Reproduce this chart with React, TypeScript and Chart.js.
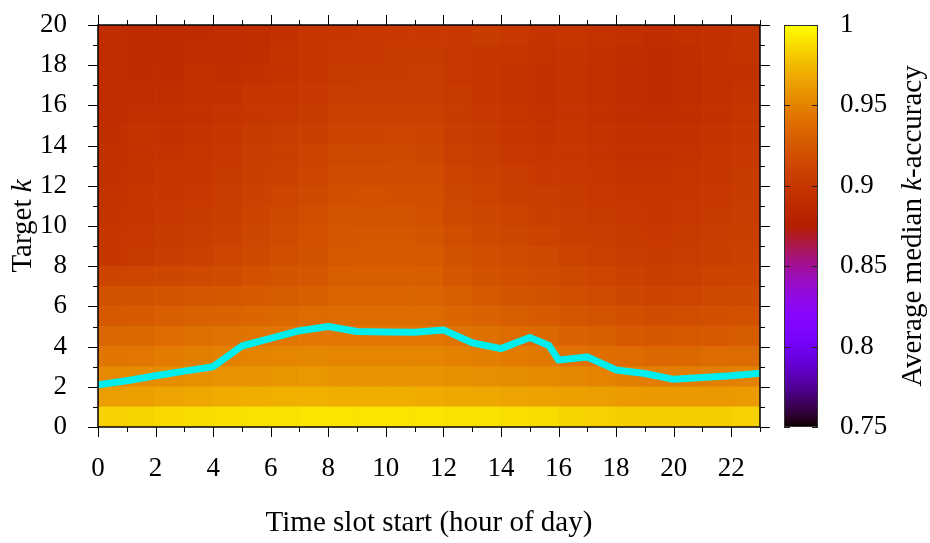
import React, { useEffect, useRef } from 'react';
import { Chart, registerables } from 'chart.js';

Chart.register(...registerables);

// ---- data ----
const hours: number[] = [0, 1, 2, 3, 4, 5, 6, 7, 8, 9, 10, 11, 12, 13, 14, 15, 16, 17, 18, 19, 20, 21, 22];
const targetK: number[] = [0, 1, 2, 3, 4, 5, 6, 7, 8, 9, 10, 11, 12, 13, 14, 15, 16, 17, 18, 19];

// accuracy per target-k row (k = 0 .. 19), one value per hourly slot
const accuracyByK: number[][] = [
  [0.984, 0.985, 0.987, 0.988, 0.989, 0.990, 0.990, 0.991, 0.991, 0.991, 0.991, 0.991, 0.990, 0.990, 0.989, 0.988, 0.985, 0.984, 0.983, 0.983, 0.983, 0.983, 0.984],
  [0.963, 0.964, 0.966, 0.967, 0.969, 0.970, 0.971, 0.971, 0.970, 0.970, 0.970, 0.969, 0.968, 0.967, 0.966, 0.965, 0.964, 0.963, 0.962, 0.961, 0.961, 0.961, 0.962],
  [0.953, 0.954, 0.955, 0.957, 0.958, 0.958, 0.959, 0.960, 0.958, 0.958, 0.958, 0.958, 0.957, 0.956, 0.955, 0.954, 0.952, 0.950, 0.948, 0.947, 0.947, 0.948, 0.949],
  [0.943, 0.944, 0.946, 0.948, 0.949, 0.950, 0.951, 0.952, 0.951, 0.951, 0.951, 0.951, 0.949, 0.948, 0.946, 0.945, 0.941, 0.939, 0.937, 0.935, 0.936, 0.937, 0.938],
  [0.935, 0.936, 0.937, 0.940, 0.941, 0.942, 0.943, 0.944, 0.944, 0.944, 0.944, 0.944, 0.941, 0.940, 0.937, 0.936, 0.932, 0.930, 0.927, 0.925, 0.926, 0.927, 0.928],
  [0.926, 0.927, 0.929, 0.931, 0.932, 0.934, 0.936, 0.937, 0.938, 0.938, 0.938, 0.938, 0.934, 0.932, 0.929, 0.927, 0.924, 0.922, 0.919, 0.917, 0.918, 0.919, 0.920],
  [0.921, 0.921, 0.922, 0.924, 0.925, 0.927, 0.928, 0.930, 0.933, 0.933, 0.933, 0.933, 0.929, 0.926, 0.923, 0.921, 0.918, 0.916, 0.913, 0.911, 0.912, 0.914, 0.915],
  [0.911, 0.912, 0.913, 0.915, 0.917, 0.920, 0.923, 0.924, 0.929, 0.929, 0.929, 0.929, 0.924, 0.921, 0.919, 0.917, 0.914, 0.912, 0.909, 0.907, 0.908, 0.910, 0.911],
  [0.900, 0.903, 0.905, 0.908, 0.912, 0.915, 0.919, 0.921, 0.926, 0.927, 0.927, 0.926, 0.921, 0.918, 0.916, 0.914, 0.910, 0.908, 0.906, 0.904, 0.905, 0.907, 0.909],
  [0.899, 0.901, 0.903, 0.906, 0.909, 0.913, 0.916, 0.920, 0.924, 0.925, 0.925, 0.923, 0.918, 0.915, 0.913, 0.910, 0.907, 0.905, 0.903, 0.902, 0.903, 0.905, 0.907],
  [0.897, 0.900, 0.902, 0.904, 0.907, 0.911, 0.914, 0.918, 0.922, 0.922, 0.922, 0.920, 0.915, 0.913, 0.910, 0.907, 0.905, 0.903, 0.901, 0.900, 0.901, 0.903, 0.905],
  [0.896, 0.899, 0.900, 0.902, 0.905, 0.909, 0.912, 0.915, 0.919, 0.920, 0.919, 0.918, 0.913, 0.910, 0.907, 0.905, 0.903, 0.901, 0.899, 0.898, 0.900, 0.901, 0.904],
  [0.895, 0.897, 0.899, 0.900, 0.903, 0.907, 0.909, 0.912, 0.917, 0.917, 0.917, 0.916, 0.911, 0.908, 0.905, 0.902, 0.901, 0.899, 0.897, 0.896, 0.898, 0.900, 0.903],
  [0.893, 0.896, 0.897, 0.898, 0.901, 0.905, 0.907, 0.910, 0.914, 0.914, 0.915, 0.913, 0.908, 0.905, 0.902, 0.899, 0.899, 0.897, 0.895, 0.894, 0.896, 0.898, 0.901],
  [0.892, 0.896, 0.895, 0.897, 0.899, 0.903, 0.905, 0.907, 0.911, 0.911, 0.912, 0.911, 0.906, 0.903, 0.900, 0.897, 0.898, 0.896, 0.894, 0.893, 0.894, 0.896, 0.900],
  [0.890, 0.893, 0.893, 0.895, 0.897, 0.900, 0.902, 0.904, 0.908, 0.908, 0.909, 0.908, 0.904, 0.901, 0.898, 0.896, 0.897, 0.894, 0.892, 0.891, 0.892, 0.894, 0.898],
  [0.890, 0.890, 0.891, 0.894, 0.894, 0.899, 0.900, 0.902, 0.905, 0.906, 0.906, 0.906, 0.903, 0.900, 0.897, 0.895, 0.896, 0.893, 0.890, 0.889, 0.891, 0.893, 0.896],
  [0.890, 0.889, 0.889, 0.893, 0.892, 0.894, 0.897, 0.900, 0.903, 0.904, 0.904, 0.905, 0.901, 0.899, 0.897, 0.894, 0.896, 0.893, 0.890, 0.889, 0.891, 0.893, 0.895],
  [0.890, 0.888, 0.888, 0.890, 0.890, 0.892, 0.896, 0.899, 0.901, 0.902, 0.903, 0.903, 0.901, 0.900, 0.898, 0.896, 0.897, 0.894, 0.891, 0.889, 0.891, 0.894, 0.896],
  [0.890, 0.888, 0.888, 0.889, 0.890, 0.891, 0.895, 0.898, 0.900, 0.901, 0.902, 0.902, 0.902, 0.904, 0.901, 0.897, 0.898, 0.896, 0.893, 0.890, 0.893, 0.895, 0.897],
];

// cyan curve
const lineHours: number[] = [0, 1, 2, 3, 4, 5, 6, 7, 8, 9, 10, 11, 12, 13, 14, 15, 15.67, 16, 17, 18, 19, 20, 21, 22, 23];
const lineK: number[] = [2.1, 2.3, 2.55, 2.78, 3.0, 4.03, 4.41, 4.79, 5.0, 4.75, 4.73, 4.71, 4.83, 4.19, 3.9, 4.45, 4.05, 3.33, 3.48, 2.84, 2.66, 2.37, 2.46, 2.55, 2.68];

// axes
const xTicks: number[] = [0, 2, 4, 6, 8, 10, 12, 14, 16, 18, 20, 22];
const yTicks: number[] = [0, 2, 4, 6, 8, 10, 12, 14, 16, 18, 20];
const cbTicks: number[] = [0.75, 0.8, 0.85, 0.9, 0.95, 1];
const cbTickLabels: string[] = ['0.75', '0.8', '0.85', '0.9', '0.95', '1'];
const xMin = 0, xMax = 23, yMin = 0, yMax = 20;
const cbMin = 0.75, cbMax = 1;

// ---- style ----
const FAMILY = '"Liberation Serif", "Times New Roman", serif';
const FS = 27;
const TITLE_FS = 29;

function palette(v: number): string {
  let t = (v - cbMin) / (cbMax - cbMin);
  t = Math.max(0, Math.min(1, t));
  const r = Math.sqrt(t);
  const g = t * t * t;
  const b = Math.max(0, Math.sin(2 * Math.PI * t));
  return `rgb(${Math.round(r * 255)},${Math.round(g * 255)},${Math.round(b * 255)})`;
}

function drawRotatedMixed(ctx: CanvasRenderingContext2D, cx: number, cy: number, parts: [string, boolean][]) {
  ctx.save();
  ctx.translate(cx, cy);
  ctx.rotate(-Math.PI / 2);
  ctx.textBaseline = 'middle';
  ctx.textAlign = 'left';
  ctx.fillStyle = '#000';
  let total = 0;
  const widths: number[] = [];
  for (const [s, it] of parts) {
    ctx.font = `${it ? 'italic ' : ''}${TITLE_FS}px ${FAMILY}`;
    const w = ctx.measureText(s).width;
    widths.push(w);
    total += w;
  }
  let x = -total / 2;
  parts.forEach(([s, it], i) => {
    ctx.font = `${it ? 'italic ' : ''}${TITLE_FS}px ${FAMILY}`;
    ctx.fillText(s, x, 0);
    x += widths[i];
  });
  ctx.restore();
}

const mainDecor = {
  id: 'mainDecor',
  afterDraw(chart: any) {
    const { ctx, chartArea: a, scales } = chart;
    const xs = scales.x, ys = scales.y;
    ctx.save();
    ctx.strokeStyle = '#000';
    ctx.lineWidth = 1;
    ctx.beginPath();
    for (let v = xs.min; v <= xs.max; v++) {
      const px = Math.round(xs.getPixelForValue(v)) + 0.5;
      const len = xTicks.includes(v) ? 10 : 5;
      ctx.moveTo(px, a.bottom);
      ctx.lineTo(px, a.bottom + len);
      ctx.moveTo(px, a.top);
      ctx.lineTo(px, a.top - len);
    }
    for (let v = ys.min; v <= ys.max; v++) {
      const py = Math.round(ys.getPixelForValue(v)) + 0.5;
      const len = yTicks.includes(v) ? 10 : 5;
      ctx.moveTo(a.left, py);
      ctx.lineTo(a.left - len, py);
      ctx.moveTo(a.right, py);
      ctx.lineTo(a.right + len, py);
    }
    ctx.stroke();
    ctx.lineWidth = 1.5;
    ctx.strokeRect(a.left, a.top, a.right - a.left, a.bottom - a.top);
    ctx.restore();
    drawRotatedMixed(ctx, 23, (a.top + a.bottom) / 2, [['Target ', false], ['k', true]]);
  },
};

const cbDecor = {
  id: 'cbDecor',
  afterDraw(chart: any) {
    const { ctx, chartArea: a, scales } = chart;
    const ys = scales.y;
    ctx.save();
    ctx.strokeStyle = '#333';
    ctx.lineWidth = 1;
    ctx.strokeRect(a.left + 0.5, a.top + 0.5, a.right - a.left - 1, a.bottom - a.top - 1);
    ctx.strokeStyle = '#222';
    ctx.beginPath();
    for (const v of cbTicks) {
      const py = Math.round(ys.getPixelForValue(v)) + 0.5;
      ctx.moveTo(a.left, py);
      ctx.lineTo(a.left + 6, py);
      ctx.moveTo(a.right, py);
      ctx.lineTo(a.right - 6, py);
    }
    ctx.stroke();
    ctx.restore();
    drawRotatedMixed(ctx, 143, (a.top + a.bottom) / 2, [['Average median ', false], ['k', true], ['-accuracy', false]]);
  },
};

export default function App() {
  const mainRef = useRef<HTMLCanvasElement>(null);
  const cbRef = useRef<HTMLCanvasElement>(null);

  useEffect(() => {
    const font = { family: FAMILY, size: FS };

    const barSets = targetK.map((k, r) => ({
      type: 'bar' as const,
      data: hours.map((h) => ({ x: h + 0.5, y: [k, k + 1] })),
      backgroundColor: accuracyByK[r].map((v) => palette(v)),
      borderWidth: 0,
      grouped: false,
      barPercentage: 1,
      categoryPercentage: 1,
      order: 1,
    }));

    const lineSet = {
      type: 'line' as const,
      data: lineHours.map((h, i) => ({ x: h, y: lineK[i] })),
      borderColor: 'rgb(0,238,238)',
      borderWidth: 7,
      pointRadius: 0,
      tension: 0,
      clip: 0,
      order: 0,
      borderJoinStyle: 'round',
    };

    const main = new Chart(mainRef.current!, {
      type: 'bar',
      data: { datasets: [lineSet as any, ...barSets] },
      options: {
        responsive: false,
        devicePixelRatio: 1,
        animation: false,
        events: [],
        layout: { padding: { left: 0, top: 25, right: 170, bottom: 0 } },
        plugins: { legend: { display: false }, tooltip: { enabled: false } },
        scales: {
          x: {
            type: 'linear',
            min: xMin,
            max: xMax,
            offset: false,
            position: 'bottom',
            grid: { display: false, drawTicks: false },
            border: { display: false },
            afterBuildTicks: (s: any) => { s.ticks = xTicks.map((v) => ({ value: v })); },
            afterFit: (s: any) => { s.height = 116; s.paddingLeft = 0; s.paddingRight = 0; },
            ticks: { font, color: '#000', padding: 26, maxRotation: 0, autoSkip: false, callback: (v: any) => String(v) },
            title: { display: true, text: 'Time slot start (hour of day)', font: { family: FAMILY, size: TITLE_FS }, color: '#000', padding: { top: 0, bottom: 2 } },
          },
          y: {
            type: 'linear',
            min: yMin,
            max: yMax,
            position: 'left',
            grid: { display: false, drawTicks: false },
            border: { display: false },
            afterBuildTicks: (s: any) => { s.ticks = yTicks.map((v) => ({ value: v })); },
            afterFit: (s: any) => { s.width = 98; s.paddingTop = 0; s.paddingBottom = 0; },
            ticks: { font, color: '#000', padding: 31, autoSkip: false, callback: (v: any) => String(v) },
          },
        },
      } as any,
      plugins: [mainDecor],
    });

    const cb = new Chart(cbRef.current!, {
      type: 'bar',
      data: {
        labels: ['scale'],
        datasets: [
          {
            data: [[cbMin, cbMax]] as any,
            backgroundColor: (c: any) => {
              const chart = c.chart;
              const ys = chart.scales.y;
              if (!chart.chartArea || !ys) return palette(cbMax);
              const y0 = ys.getPixelForValue(cbMin);
              const y1 = ys.getPixelForValue(cbMax);
              const g = chart.ctx.createLinearGradient(0, y0, 0, y1);
              const N = 100;
              for (let i = 0; i <= N; i++) {
                g.addColorStop(i / N, palette(cbMin + (cbMax - cbMin) * (i / N)));
              }
              return g;
            },
            borderWidth: 0,
            barPercentage: 1,
            categoryPercentage: 1,
          },
        ],
      },
      options: {
        responsive: false,
        devicePixelRatio: 1,
        animation: false,
        events: [],
        layout: { padding: { left: 14, top: 25, right: 0, bottom: 116 } },
        plugins: { legend: { display: false }, tooltip: { enabled: false } },
        scales: {
          x: { display: false },
          y: {
            type: 'linear',
            min: cbMin,
            max: cbMax,
            position: 'right',
            grid: { display: false, drawTicks: false },
            border: { display: false },
            afterBuildTicks: (s: any) => { s.ticks = cbTicks.map((v) => ({ value: v })); },
            afterFit: (s: any) => { s.width = 112; s.paddingTop = 0; s.paddingBottom = 0; },
            ticks: { font, color: '#000', padding: 22, autoSkip: false, callback: (_v: any, i: number) => cbTickLabels[i] },
          },
        },
      } as any,
      plugins: [cbDecor],
    });

    return () => {
      main.destroy();
      cb.destroy();
    };
  }, []);

  return (
    <div style={{ position: 'absolute', left: 0, top: 0, width: 930, height: 543, background: '#fff' }}>
      <canvas ref={mainRef} width={930} height={543} style={{ position: 'absolute', left: 0, top: 0 }} />
      <canvas ref={cbRef} width={160} height={543} style={{ position: 'absolute', left: 770, top: 0 }} />
    </div>
  );
}
